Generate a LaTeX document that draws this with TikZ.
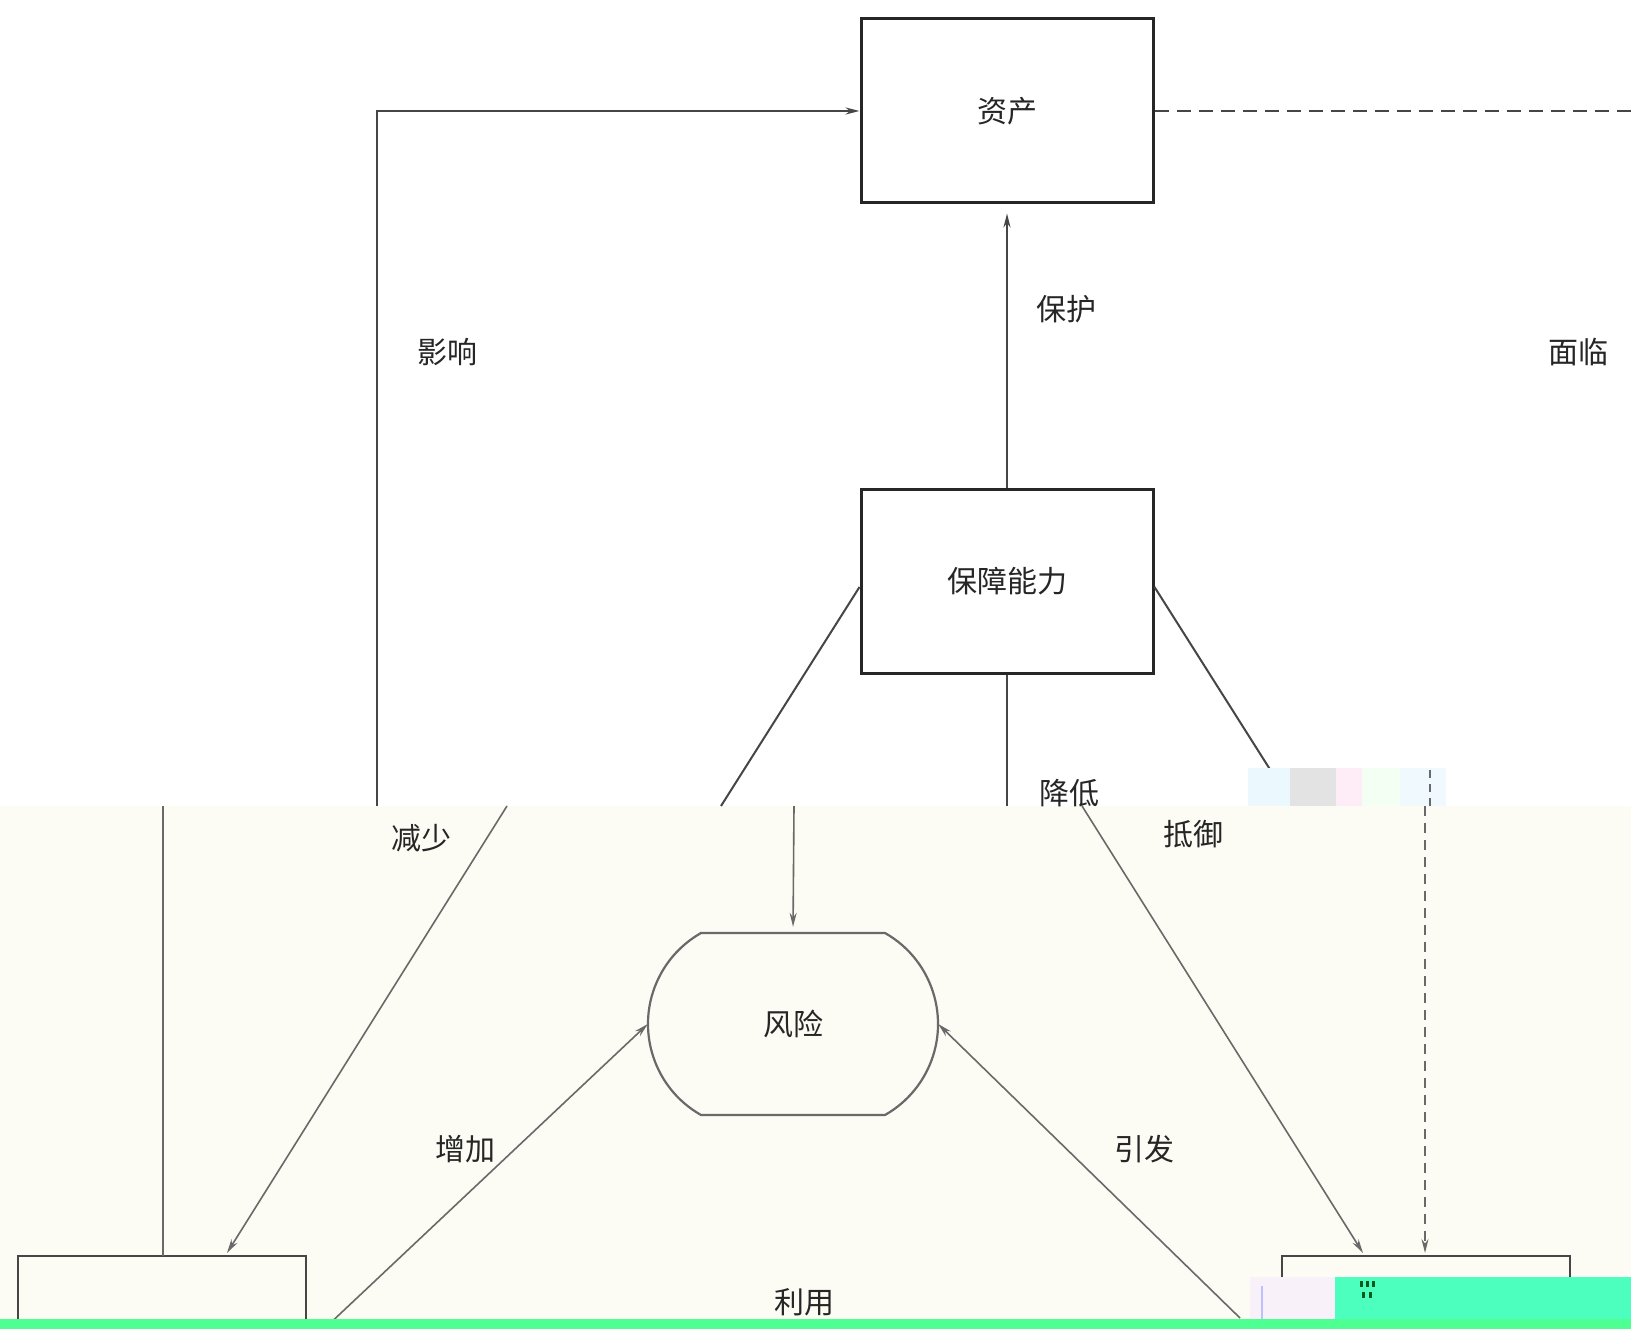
\documentclass[tikz,border=0pt]{standalone}
\usepackage{fontspec}
\newfontfamily\cjk{Noto Sans CJK SC}
\usetikzlibrary{arrows.meta}
\definecolor{ink}{RGB}{38,38,38}
\definecolor{wire}{RGB}{70,70,70}
\definecolor{wirelo}{RGB}{105,105,105}
\definecolor{cream}{RGB}{252,252,245}
\definecolor{barg}{RGB}{78,255,146}
\definecolor{patchg}{RGB}{76,255,190}
\definecolor{patchp}{RGB}{249,241,250}
\definecolor{markg}{RGB}{0,90,30}
\begin{document}
\begin{tikzpicture}[x=1pt,y=-1pt,
  box/.style={draw=ink, line width=3pt, minimum width=292pt, minimum height=184pt,
    inner sep=0pt, font=\cjk\fontsize{30pt}{36pt}\selectfont, text=ink},
  lowbox/.style={draw=wire, line width=2.5pt, minimum width=288pt, minimum height=140pt, inner sep=0pt},
  lbl/.style={font=\cjk\fontsize{30pt}{36pt}\selectfont, text=ink, inner sep=0pt},
  link/.style={draw=wire, line width=2pt},
  lowlink/.style={draw=wirelo, line width=1.6pt},
  tip/.style={-{Stealth[length=14pt,width=7pt]}},
  dashline/.style={dash pattern=on 14pt off 8pt}
]
\useasboundingbox (0,0) rectangle (1631,1329);
\clip (0,0) rectangle (1631,1329);

% two background bands
\fill[white] (0,0) rectangle (1631,806);
\fill[cream] (0,806) rectangle (1631,1329);

% ---------- upper part ----------
\node[box] (asset) at (1007,111) {资产};
\node[box] (cap) at (1007,581) {保障能力};

\coordinate (cutL) at (377,806);
\coordinate (farR) at (1631,111);
\coordinate (cutM) at (1007,806);
\coordinate (cutDL) at (721,806);
\coordinate (cutDR) at (1290,801);

\draw[link,tip] (cutL) |- (asset.west);
\draw[link,dashline] (asset.east) -- (farR);
\draw[link,tip,shorten >=9pt] (cap.north) -- (asset.south);
\draw[link] (cap.south) -- (cutM);
\draw[link] ([yshift=-6pt]cap.west) -- (cutDL);
\draw[link,tip] ([yshift=-6pt]cap.east) -- (cutDR);

\node[lbl] (tImpact) at (447,352) {影响};
\node[lbl] (tProtect) at (1066,309) {保护};
\node[lbl] (tFace) at (1578,352) {面临};
\node[lbl] (tLower) at (1069,793) {降低};

% pale streaks at the band edge
\fill[cyan!8] (1248,768) rectangle (1290,806);
\fill[gray!22] (1290,768) rectangle (1336,806);
\fill[magenta!7] (1336,768) rectangle (1362,806);
\fill[green!5] (1362,768) rectangle (1400,806);
\fill[cyan!6] (1400,768) rectangle (1446,806);
\coordinate (dashTop) at (1430,770);
\coordinate (dashCut) at (1430,806);
\draw[lowlink,dash pattern=on 8pt off 6pt] (dashTop) -- (dashCut);

% ---------- lower part ----------
\node[lowbox] (lbox) at (162,1326) {};
\node[lowbox] (rbox) at (1426,1326) {};
\node[minimum width=290pt, minimum height=182pt, inner sep=0pt,
      font=\cjk\fontsize{30pt}{36pt}\selectfont, text=ink] (risk) at (793,1024) {风险};

% rounded outline of the risk node
\draw[draw=wirelo, line width=2.2pt]
  (701,933) -- (885,933) arc[start angle=60.45, end angle=-60.45, radius=104.6pt]
  -- (701,1115) arc[start angle=240.45, end angle=119.55, radius=104.6pt] -- cycle;

\coordinate (lA) at (163,806);
\coordinate (lAend) at (163,1256);
\coordinate (lB) at (507,806);
\coordinate (lBend) at (227,1253);
\coordinate (lC) at (794,806);
\coordinate (lD) at (1082,806);
\coordinate (lDend) at (1363,1253);
\coordinate (lE) at (1425,806);
\coordinate (lEend) at (1425,1253);
\coordinate (lF) at (324,1329);
\coordinate (lG) at (1240,1318);

\draw[lowlink] (lA) -- (lAend);
\draw[lowlink,tip] (lB) -- (lBend);
\draw[lowlink,tip,shorten >=6pt] (lC) -- (risk.north);
\draw[lowlink,tip] (lD) -- (lDend);
\draw[lowlink,tip,dash pattern=on 10pt off 7pt] (lE) -- (lEend);
\draw[lowlink,tip] (lF) -- (risk.west);
\draw[lowlink,tip] (lG) -- (risk.east);

\node[lbl] (tReduce) at (421,838) {减少};
\node[lbl] (tResist) at (1193,834) {抵御};
\node[lbl] (tAdd) at (465,1149) {增加};
\node[lbl] (tCause) at (1144,1149) {引发};
\node[lbl] (tUse) at (804,1302) {利用};

% coloured blocks along the bottom edge
\fill[patchp] (1250,1277) rectangle (1335,1319);
\fill[blue!25] (1261,1286) rectangle (1263,1319);
\fill[patchg] (1335,1277) rectangle (1631,1319);
\fill[markg] (1360,1281) rectangle (1363,1287);
\fill[markg] (1366,1281) rectangle (1369,1287);
\fill[markg] (1372,1281) rectangle (1375,1287);
\fill[markg] (1362,1292) rectangle (1365,1298);
\fill[markg] (1369,1292) rectangle (1372,1298);
\fill[barg] (0,1319) rectangle (1631,1329);
\end{tikzpicture}
\end{document}
